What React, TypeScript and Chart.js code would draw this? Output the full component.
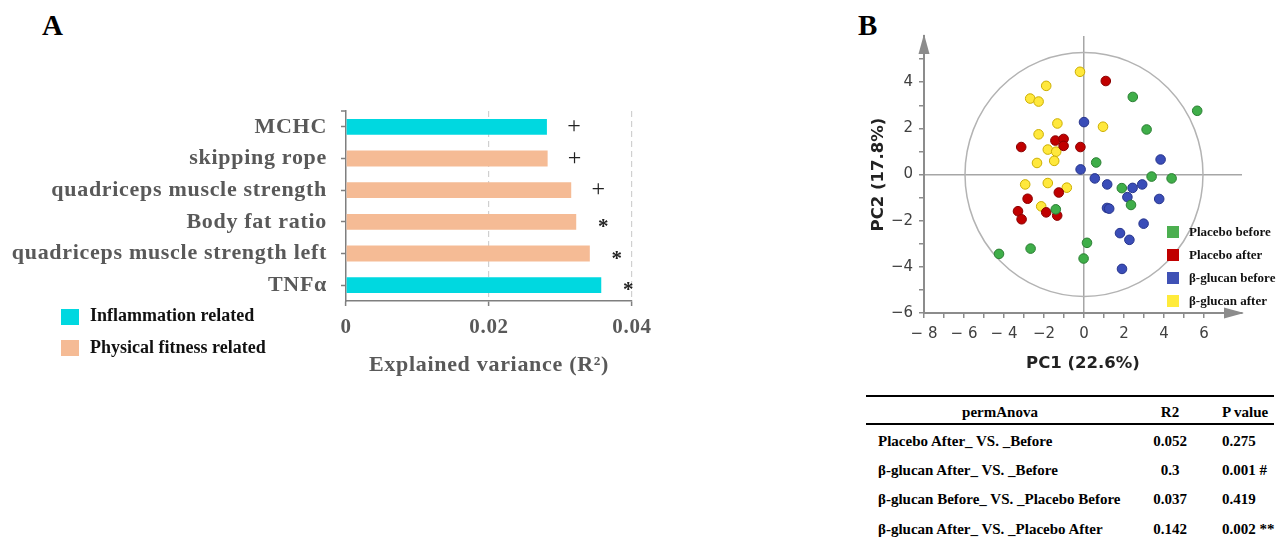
import React, { useEffect, useRef } from "react";
import { Chart, registerables } from "chart.js";

Chart.register(...registerables);

// ---------- Panel A data ----------
const barCategories = [
  "MCHC",
  "skipping rope",
  "quadriceps muscle strength",
  "Body fat ratio",
  "quadriceps muscle strength left",
  "TNFα",
];
const barValues = [0.0281, 0.0282, 0.0315, 0.0322, 0.0341, 0.0357];
const barGroups = ["inflammation", "fitness", "fitness", "fitness", "fitness", "inflammation"];
const barMarks = ["+", "+", "+", "*", "*", "*"];
const barXTickValues = [0, 0.02, 0.04];
const barXTickLabels = ["0", "0.02", "0.04"];
const groupKeys = ["inflammation", "fitness"];
const groupNames = ["Inflammation related", "Physical fitness related"];
const groupColors: Record<string, string> = { inflammation: "#00D8E0", fitness: "#F5BB95" };

// ---------- Panel B data ----------
const pcaSeriesNames = ["Placebo before", "Placebo after", "β-glucan before", "β-glucan after"];
const pcaFill = ["#3FAE49", "#C00000", "#3A4DB8", "#FFE83C"];
const pcaStroke = ["#2B7E33", "#8A0000", "#27358C", "#CCAE00"];
const legendSwatch = ["#4CAF50", "#C00000", "#3F51B5", "#FFEB3B"];

const placeboBeforeX = [2.44, 5.66, 3.13, 0.61, 3.38, 4.38, 1.89, 2.35, -1.41, 0.15, -0.02, -2.67, -4.25];
const placeboBeforeY = [3.36, 2.76, 1.95, 0.52, -0.09, -0.17, -0.59, -1.32, -1.51, -2.96, -3.64, -3.21, -3.44];
const placeboAfterX = [1.09, -3.14, -1.43, -1.02, -1.02, -0.18, -1.26, -2.82, -3.3, -3.12, -1.89, -1.34];
const placeboAfterY = [4.05, 1.19, 1.47, 1.54, 1.24, 1.19, -0.78, -1.05, -1.59, -1.94, -1.64, -1.78];
const glucanBeforeX = [0.0, -0.17, 0.54, 1.16, 2.43, 2.91, 3.83, 2.17, 3.76, 1.15, 1.26, 2.98, 1.8, 2.27, 1.9];
const glucanBeforeY = [2.27, 0.22, -0.17, -0.43, -0.58, -0.43, 0.65, -0.98, -1.06, -1.45, -1.48, -2.13, -2.54, -2.83, -4.09];
const glucanAfterX = [-0.2, -1.89, -2.69, -2.27, -1.33, 0.95, -2.27, -1.81, -1.39, -2.35, -1.49, -2.94, -1.81, -0.86, -2.14];
const glucanAfterY = [4.45, 3.84, 3.29, 3.16, 2.21, 2.07, 1.74, 1.08, 0.99, 0.5, 0.59, -0.43, -0.37, -0.57, -1.38];

const pcaXSeries = [placeboBeforeX, placeboAfterX, glucanBeforeX, glucanAfterX];
const pcaYSeries = [placeboBeforeY, placeboAfterY, glucanBeforeY, glucanAfterY];

const pcaXMinorTicks = [-8, -7, -6, -5, -4, -3, -2, -1, 0, 1, 2, 3, 4, 5, 6];
const pcaXTickValues = [-8, -6, -4, -2, 0, 2, 4, 6];
const pcaXTickLabels = ["− 8", "− 6", "− 4", "−2", "0", "2", "4", "6"];
const pcaYMinorTicks = [-6, -5, -4, -3, -2, -1, 0, 1, 2, 3, 4, 5];
const pcaYTickValues = [-6, -4, -2, 0, 2, 4];
const pcaYTickLabels = ["−6", "−4", "−2", "0", "2", "4"];
const pcaXTitle = "PC1 (22.6%)";
const pcaYTitle = "PC2 (17.8%)";
const ellipseRadiusX = 5.95;
const ellipseRadiusY = 5.28;

// ---------- Table data ----------
const tableHeader = ["permAnova", "R2", "P value"];
const tableComparisons = [
  "Placebo After_ VS. _Before",
  "β-glucan After_ VS. _Before",
  "β-glucan Before_ VS. _Placebo Before",
  "β-glucan After_ VS. _Placebo After",
];
const tableR2 = ["0.052", "0.3", "0.037", "0.142"];
const tablePValues = ["0.275", "0.001 #", "0.419", "0.002 **"];

const SERIF = '"Liberation Serif", "Times New Roman", serif';
const SANS = '"DejaVu Sans", sans-serif';

function Txt(props: {
  x: number;
  cy: number;
  size: number;
  children: React.ReactNode;
  align?: "left" | "center";
  width?: number;
  color?: string;
  family?: string;
  weight?: string;
}) {
  const { x, cy, size, children, align = "left", width, color = "#000", family = SERIF, weight = "bold" } = props;
  const style: React.CSSProperties = {
    position: "absolute",
    left: x,
    top: cy - 0.507 * size,
    fontFamily: family,
    fontWeight: weight as any,
    fontSize: size,
    lineHeight: `${size}px`,
    color,
    whiteSpace: "nowrap",
    textAlign: align,
  };
  if (width !== undefined) style.width = width;
  return <div style={style}>{children}</div>;
}

export default function App() {
  const barRef = useRef<HTMLCanvasElement | null>(null);
  const pcaRef = useRef<HTMLCanvasElement | null>(null);

  useEffect(() => {
    const spacingPlugin = {
      id: "spacing",
      beforeDraw(chart: any) {
        (chart.ctx as any).letterSpacing = "0.7px";
      },
      afterDraw(chart: any) {
        (chart.ctx as any).letterSpacing = "0px";
        const { ctx, chartArea } = chart;
        ctx.save();
        ctx.strokeStyle = "#7f7f7f";
        ctx.lineWidth = 1.5;
        ctx.beginPath();
        ctx.moveTo(chartArea.left - 5, chartArea.top);
        ctx.lineTo(chartArea.left, chartArea.top);
        ctx.stroke();
        ctx.restore();
      },
    };

    const marksPlugin = {
      id: "barMarks",
      afterDatasetsDraw(chart: any) {
        const ctx = chart.ctx;
        const meta = chart.getDatasetMeta(0);
        ctx.save();
        (ctx as any).letterSpacing = "0px";
        ctx.fillStyle = "#222";
        ctx.textAlign = "center";
        ctx.textBaseline = "alphabetic";
        meta.data.forEach((bar: any, i: number) => {
          const m = barMarks[i];
          if (m === "*") {
            ctx.font = `bold 21px ${SERIF}`;
            ctx.fillText(m, bar.x + 27, bar.y + 11);
          } else {
            ctx.font = `24px ${SERIF}`;
            ctx.fillText(m, bar.x + 27, bar.y + 6);
          }
        });
        ctx.restore();
      },
    };

    const barChart = new Chart(barRef.current as HTMLCanvasElement, {
      type: "bar",
      data: {
        labels: barCategories,
        datasets: [
          {
            data: barValues,
            backgroundColor: barGroups.map((g) => groupColors[g]),
            barPercentage: 0.5,
            categoryPercentage: 1,
          },
        ],
      },
      options: {
        indexAxis: "y",
        responsive: false,
        animation: false,
        devicePixelRatio: 1,
        layout: { padding: { top: 30, right: 28, left: 0, bottom: 0 } },
        plugins: { legend: { display: false }, tooltip: { enabled: false } },
        scales: {
          x: {
            type: "linear",
            min: 0,
            max: 0.04,
            afterBuildTicks: (s: any) => {
              s.ticks = barXTickValues.map((v) => ({ value: v }));
            },
            afterFit: (s: any) => {
              s.height = 79;
            },
            ticks: {
              callback: (_v: any, i: number) => barXTickLabels[i],
              font: { family: SERIF, size: 21, weight: "bold" },
              color: "#595959",
              padding: 9,
              maxRotation: 0,
            },
            grid: {
              color: (c: any) => (c.tick && c.tick.value === 0 ? "rgba(0,0,0,0)" : "#d0d0d0"),
              lineWidth: 1.2,
              drawTicks: true,
              tickLength: 5,
              tickColor: "#7f7f7f",
              tickWidth: 1.5,
            },
            border: { display: true, color: "#7f7f7f", width: 1.5, dash: [6, 4] },
            title: {
              display: true,
              text: "Explained variance (R²)",
              font: { family: SERIF, size: 22, weight: "bold" },
              color: "#595959",
              padding: { top: 0, bottom: 1 },
            },
          },
          y: {
            afterFit: (s: any) => {
              s.width = 346;
            },
            ticks: {
              font: { family: SERIF, size: 22, weight: "bold" },
              color: "#595959",
              padding: 14,
            },
            grid: {
              drawOnChartArea: false,
              drawTicks: true,
              tickLength: 5,
              tickColor: "#7f7f7f",
              tickWidth: 1.5,
              offset: false,
            },
            border: { display: true, color: "#7f7f7f", width: 1.5 },
          },
        },
      } as any,
      plugins: [spacingPlugin, marksPlugin],
    });

    const decorPlugin = {
      id: "pcaDecor",
      beforeDatasetsDraw(chart: any) {
        const { ctx, scales } = chart;
        const xs = scales.x;
        const ys = scales.y;
        const cx = xs.getPixelForValue(0);
        const cy = ys.getPixelForValue(0);
        const rx = Math.abs(xs.getPixelForValue(ellipseRadiusX) - cx);
        const ry = Math.abs(ys.getPixelForValue(ellipseRadiusY) - cy);
        ctx.save();
        ctx.strokeStyle = "#b3b3b3";
        ctx.lineWidth = 1.5;
        ctx.beginPath();
        ctx.ellipse(cx, cy, rx, ry, 0, 0, Math.PI * 2);
        ctx.stroke();
        ctx.restore();
      },
      afterDraw(chart: any) {
        const { ctx, chartArea } = chart;
        const { left, top, right, bottom } = chartArea;
        ctx.save();
        ctx.fillStyle = "#8c8c8c";
        ctx.beginPath();
        ctx.moveTo(left, top - 2);
        ctx.lineTo(left - 5.5, top + 18);
        ctx.lineTo(left + 5.5, top + 18);
        ctx.closePath();
        ctx.fill();
        ctx.beginPath();
        ctx.moveTo(right + 2, bottom);
        ctx.lineTo(right - 18, bottom - 5.5);
        ctx.lineTo(right - 18, bottom + 5.5);
        ctx.closePath();
        ctx.fill();
        ctx.restore();
      },
    };

    const pcaChart = new Chart(pcaRef.current as HTMLCanvasElement, {
      type: "scatter",
      data: {
        datasets: pcaSeriesNames.map((name, k) => ({
          label: name,
          data: pcaXSeries[k].map((x, i) => ({ x, y: pcaYSeries[k][i] })),
          backgroundColor: pcaFill[k],
          borderColor: pcaStroke[k],
          borderWidth: 1,
          pointRadius: 4.8,
        })),
      },
      options: {
        responsive: false,
        animation: false,
        devicePixelRatio: 1,
        layout: { padding: { top: 20, right: 38, left: 0, bottom: 0 } },
        plugins: { legend: { display: false }, tooltip: { enabled: false } },
        scales: {
          x: {
            type: "linear",
            min: -8,
            max: 7.9,
            afterBuildTicks: (s: any) => {
              s.ticks = pcaXMinorTicks.map((v) => ({ value: v }));
            },
            afterFit: (s: any) => {
              s.height = 67;
            },
            ticks: {
              autoSkip: false,
              maxRotation: 0,
              callback: (v: any) => {
                const i = pcaXTickValues.indexOf(Number(v));
                return i >= 0 ? pcaXTickLabels[i] : "";
              },
              font: { family: SANS, size: 15 },
              color: "#404040",
              padding: 7,
            },
            grid: {
              color: (c: any) => (c.tick && c.tick.value === 0 ? "#a6a6a6" : "rgba(0,0,0,0)"),
              lineWidth: 1.5,
              tickLength: 5,
              tickColor: "#8c8c8c",
              tickWidth: 1.5,
            },
            border: { display: true, color: "#8c8c8c", width: 2 },
            title: {
              display: true,
              text: pcaXTitle,
              font: { family: SANS, size: 16.5, weight: "bold" },
              color: "#222",
              padding: { top: 0, bottom: 6 },
            },
          },
          y: {
            type: "linear",
            min: -6,
            max: 6,
            afterBuildTicks: (s: any) => {
              s.ticks = pcaYMinorTicks.map((v) => ({ value: v }));
            },
            afterFit: (s: any) => {
              s.width = 64;
            },
            ticks: {
              autoSkip: false,
              callback: (v: any) => {
                const i = pcaYTickValues.indexOf(Number(v));
                return i >= 0 ? pcaYTickLabels[i] : "";
              },
              font: { family: SANS, size: 15 },
              color: "#404040",
              padding: 6,
            },
            grid: {
              color: (c: any) => (c.tick && c.tick.value === 0 ? "#a6a6a6" : "rgba(0,0,0,0)"),
              lineWidth: 1.5,
              tickLength: 5,
              tickColor: "#8c8c8c",
              tickWidth: 1.5,
            },
            border: { display: true, color: "#8c8c8c", width: 2 },
            title: {
              display: true,
              text: pcaYTitle,
              font: { family: SANS, size: 16.5, weight: "bold" },
              color: "#222",
              padding: { top: 9, bottom: 0 },
            },
          },
        },
      } as any,
      plugins: [decorPlugin],
    });

    return () => {
      barChart.destroy();
      pcaChart.destroy();
    };
  }, []);

  const rowCenters = [441.5, 470.8, 500.1, 529.4];
  const legendBCenters = [231.5, 254.5, 277.5, 300.5];

  return (
    <div
      style={{
        position: "absolute",
        left: 0,
        top: 0,
        width: 1280,
        height: 541,
        overflow: "hidden",
        background: "#fff",
      }}
    >
      <Txt x={42} cy={25.5} size={29}>A</Txt>
      <Txt x={858} cy={25.5} size={29}>B</Txt>

      <canvas
        ref={barRef}
        width={660}
        height={299}
        style={{ position: "absolute", left: 0, top: 81, width: 660, height: 299 }}
      />

      {groupKeys.map((g, i) => (
        <React.Fragment key={g}>
          <div
            style={{
              position: "absolute",
              left: 61,
              top: 309 + i * 30.5,
              width: 18,
              height: 16,
              background: groupColors[g],
            }}
          />
          <Txt x={90} cy={315.5 + i * 31.5} size={18} color="#111">
            {groupNames[i]}
          </Txt>
        </React.Fragment>
      ))}

      <canvas
        ref={pcaRef}
        width={420}
        height={364}
        style={{ position: "absolute", left: 860, top: 16, width: 420, height: 364 }}
      />

      {pcaSeriesNames.map((name, i) => (
        <React.Fragment key={name}>
          <div
            style={{
              position: "absolute",
              left: 1167,
              top: legendBCenters[i] - 6,
              width: 12,
              height: 12,
              background: legendSwatch[i],
            }}
          />
          <Txt x={1189} cy={legendBCenters[i]} size={13} color="#111">
            {name}
          </Txt>
        </React.Fragment>
      ))}

      <div style={{ position: "absolute", left: 866, top: 395, width: 408, height: 2, background: "#000" }} />
      <div style={{ position: "absolute", left: 866, top: 423, width: 408, height: 2, background: "#000" }} />
      <Txt x={885} cy={412.5} size={15} align="center" width={230}>
        {tableHeader[0]}
      </Txt>
      <Txt x={1130} cy={412.5} size={15} align="center" width={80}>
        {tableHeader[1]}
      </Txt>
      <Txt x={1222} cy={412.5} size={15}>
        {tableHeader[2]}
      </Txt>
      {tableComparisons.map((c, i) => (
        <React.Fragment key={c}>
          <Txt x={878} cy={rowCenters[i]} size={15}>
            {c}
          </Txt>
          <Txt x={1130} cy={rowCenters[i]} size={15} align="center" width={80}>
            {tableR2[i]}
          </Txt>
          <Txt x={1222} cy={rowCenters[i]} size={15}>
            {tablePValues[i]}
          </Txt>
        </React.Fragment>
      ))}
    </div>
  );
}
